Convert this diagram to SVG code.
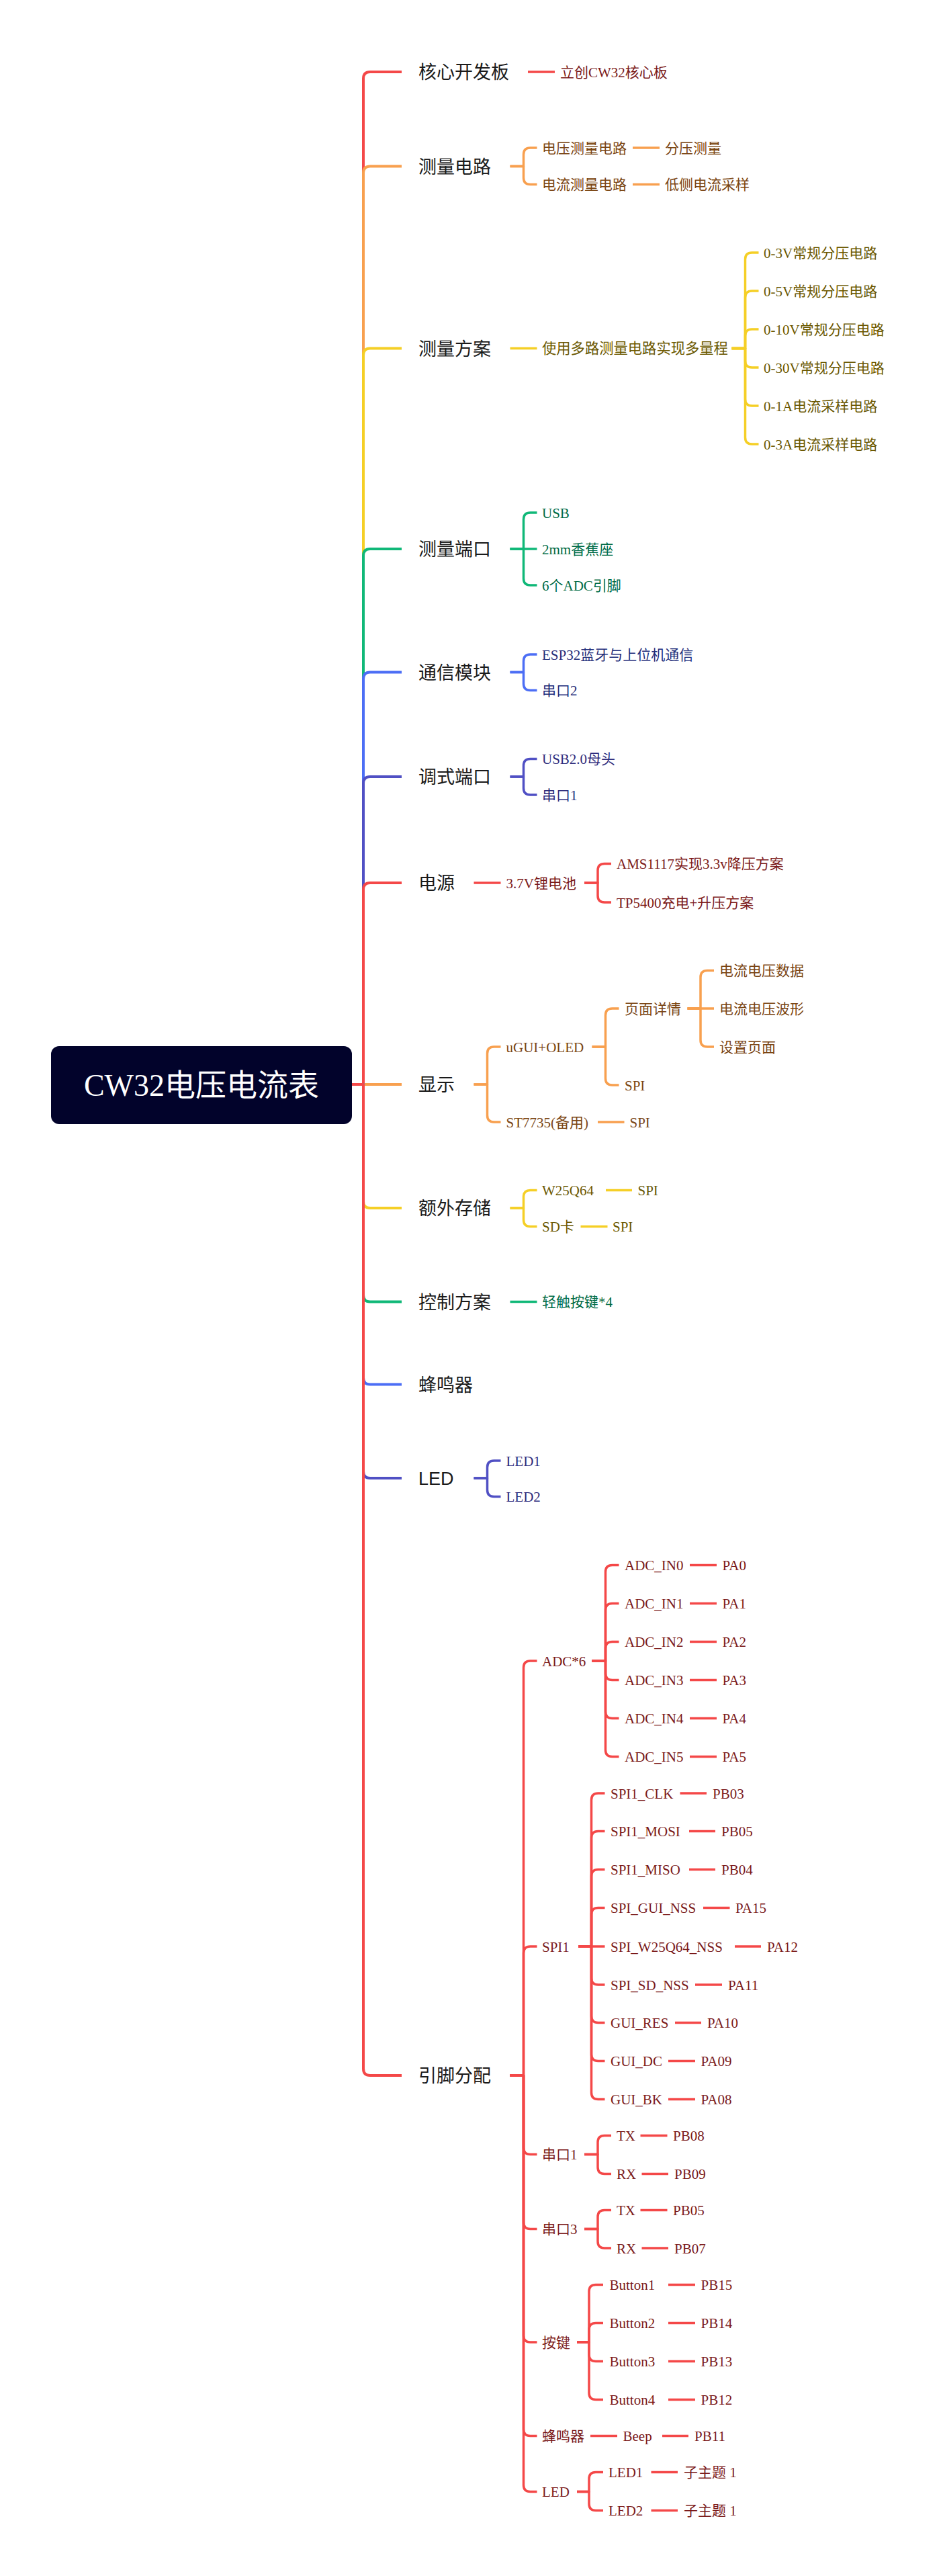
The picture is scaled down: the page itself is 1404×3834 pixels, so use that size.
<svg xmlns="http://www.w3.org/2000/svg" width="1404" height="3834" viewBox="0 0 1404 3834">
<style>
.bg{fill:#ffffff}
.m{font-family:"Liberation Sans","Noto Sans CJK SC",sans-serif;font-size:27px;fill:#1a1a1a}
.c{font-family:"Liberation Serif","Noto Sans CJK SC",serif;font-size:21px}
.root{font-family:"Liberation Serif","Noto Sans CJK SC",serif;font-size:46px;fill:#ffffff}
.l{fill:none;stroke-width:3.5;stroke-linejoin:round}
.lm{fill:none;stroke-width:4;stroke-linejoin:round}
.sr{stroke:#f44848}.so{stroke:#f8a04f}.sy{stroke:#f5cf26}.sg{stroke:#10b878}.sb{stroke:#4c6ef5}.si{stroke:#5050c4}
.tr{fill:#7b1a1a}.to{fill:#7a4512}.ty{fill:#6b5800}.tg{fill:#006b45}.tb{fill:#1f2d7a}.ti{fill:#2e2c7c}
</style>
<rect class="bg" x="0" y="0" width="1404" height="3834"/>
<g id="connectors">
<path class="lm sr" d="M524,1614 H541 V117 Q541,107 551,107 H598"/>
<path class="lm so" d="M524,1614 H541 V257.5 Q541,247.5 551,247.5 H598"/>
<path class="lm sy" d="M524,1614 H541 V528.5 Q541,518.5 551,518.5 H598"/>
<path class="lm sg" d="M524,1614 H541 V827 Q541,817 551,817 H598"/>
<path class="lm sb" d="M524,1614 H541 V1010.5 Q541,1000.5 551,1000.5 H598"/>
<path class="lm si" d="M524,1614 H541 V1166 Q541,1156 551,1156 H598"/>
<path class="lm sr" d="M524,1614 H541 V1324 Q541,1314 551,1314 H598"/>
<path class="lm so" d="M524,1614 H598"/>
<path class="lm sy" d="M524,1614 H541 V1788 Q541,1798 551,1798 H598"/>
<path class="lm sg" d="M524,1614 H541 V1927.5 Q541,1937.5 551,1937.5 H598"/>
<path class="lm sb" d="M524,1614 H541 V2050.5 Q541,2060.5 551,2060.5 H598"/>
<path class="lm si" d="M524,1614 H541 V2190 Q541,2200 551,2200 H598"/>
<path class="lm sr" d="M524,1614 H541 V3079 Q541,3089 551,3089 H598"/>
<path class="l sr" d="M786,107 H826"/>
<path class="l so" d="M759.5,247.5 H779.5 V230 Q779.5,220 789.5,220 H799.5"/>
<path class="l so" d="M759.5,247.5 H779.5 V264.5 Q779.5,274.5 789.5,274.5 H799.5"/>
<path class="l so" d="M942,220 H982"/>
<path class="l so" d="M942,274.5 H982"/>
<path class="l sy" d="M759.5,518.5 H799.5"/>
<path class="l sy" d="M1089.5,518.5 H1109.5 V386 Q1109.5,376 1119.5,376 H1129.5"/>
<path class="l sy" d="M1089.5,518.5 H1109.5 V443 Q1109.5,433 1119.5,433 H1129.5"/>
<path class="l sy" d="M1089.5,518.5 H1109.5 V500 Q1109.5,490 1119.5,490 H1129.5"/>
<path class="l sy" d="M1089.5,518.5 H1109.5 V537 Q1109.5,547 1119.5,547 H1129.5"/>
<path class="l sy" d="M1089.5,518.5 H1109.5 V594 Q1109.5,604 1119.5,604 H1129.5"/>
<path class="l sy" d="M1089.5,518.5 H1109.5 V651 Q1109.5,661 1119.5,661 H1129.5"/>
<path class="l sg" d="M759.5,817 H779.5 V773 Q779.5,763 789.5,763 H799.5"/>
<path class="l sg" d="M759.5,817 H799.5"/>
<path class="l sg" d="M759.5,817 H779.5 V861 Q779.5,871 789.5,871 H799.5"/>
<path class="l sb" d="M759.5,1000.5 H779.5 V984 Q779.5,974 789.5,974 H799.5"/>
<path class="l sb" d="M759.5,1000.5 H779.5 V1017.5 Q779.5,1027.5 789.5,1027.5 H799.5"/>
<path class="l si" d="M759.5,1156 H779.5 V1139.5 Q779.5,1129.5 789.5,1129.5 H799.5"/>
<path class="l si" d="M759.5,1156 H779.5 V1173 Q779.5,1183 789.5,1183 H799.5"/>
<path class="l sr" d="M705.5,1314 H745.5"/>
<path class="l sr" d="M870,1314 H890 V1295.5 Q890,1285.5 900,1285.5 H910"/>
<path class="l sr" d="M870,1314 H890 V1333 Q890,1343 900,1343 H910"/>
<path class="l so" d="M705.5,1614 H725.5 V1568 Q725.5,1558 735.5,1558 H745.5"/>
<path class="l so" d="M705.5,1614 H725.5 V1660 Q725.5,1670 735.5,1670 H745.5"/>
<path class="l so" d="M881.5,1558 H901.5 V1511 Q901.5,1501 911.5,1501 H921.5"/>
<path class="l so" d="M881.5,1558 H901.5 V1605 Q901.5,1615 911.5,1615 H921.5"/>
<path class="l so" d="M1023.5,1501 H1043 V1454.5 Q1043,1444.5 1053,1444.5 H1063"/>
<path class="l so" d="M1023.5,1501 H1063"/>
<path class="l so" d="M1023.5,1501 H1043 V1548 Q1043,1558 1053,1558 H1063"/>
<path class="l so" d="M890,1670 H929.5"/>
<path class="l sy" d="M759.5,1798 H779.5 V1781.5 Q779.5,1771.5 789.5,1771.5 H799.5"/>
<path class="l sy" d="M759.5,1798 H779.5 V1815.5 Q779.5,1825.5 789.5,1825.5 H799.5"/>
<path class="l sy" d="M902,1771.5 H941"/>
<path class="l sy" d="M864.5,1825.5 H904.5"/>
<path class="l sg" d="M759.5,1937.5 H799.5"/>
<path class="l si" d="M705.5,2200 H725.5 V2184 Q725.5,2174 735.5,2174 H745.5"/>
<path class="l si" d="M705.5,2200 H725.5 V2217.5 Q725.5,2227.5 735.5,2227.5 H745.5"/>
<path class="l sr" d="M759.5,3089 H779.5 V2482 Q779.5,2472 789.5,2472 H799.5"/>
<path class="l sr" d="M759.5,3089 H779.5 V2907 Q779.5,2897 789.5,2897 H799.5"/>
<path class="l sr" d="M759.5,3089 H779.5 V3196.5 Q779.5,3206.5 789.5,3206.5 H799.5"/>
<path class="l sr" d="M759.5,3089 H779.5 V3307.5 Q779.5,3317.5 789.5,3317.5 H799.5"/>
<path class="l sr" d="M759.5,3089 H779.5 V3476 Q779.5,3486 789.5,3486 H799.5"/>
<path class="l sr" d="M759.5,3089 H779.5 V3615.5 Q779.5,3625.5 789.5,3625.5 H799.5"/>
<path class="l sr" d="M759.5,3089 H779.5 V3698.5 Q779.5,3708.5 789.5,3708.5 H799.5"/>
<path class="l sr" d="M881.5,2472 H901.5 V2339.5 Q901.5,2329.5 911.5,2329.5 H921.5"/>
<path class="l sr" d="M881.5,2472 H901.5 V2396.5 Q901.5,2386.5 911.5,2386.5 H921.5"/>
<path class="l sr" d="M881.5,2472 H901.5 V2453.5 Q901.5,2443.5 911.5,2443.5 H921.5"/>
<path class="l sr" d="M881.5,2472 H901.5 V2490.5 Q901.5,2500.5 911.5,2500.5 H921.5"/>
<path class="l sr" d="M881.5,2472 H901.5 V2547.5 Q901.5,2557.5 911.5,2557.5 H921.5"/>
<path class="l sr" d="M881.5,2472 H901.5 V2604.5 Q901.5,2614.5 911.5,2614.5 H921.5"/>
<path class="l sr" d="M1027,2329.5 H1067"/>
<path class="l sr" d="M1027,2386.5 H1067"/>
<path class="l sr" d="M1027,2443.5 H1067"/>
<path class="l sr" d="M1027,2500.5 H1067"/>
<path class="l sr" d="M1027,2557.5 H1067"/>
<path class="l sr" d="M1027,2614.5 H1067"/>
<path class="l sr" d="M861.5,2897 H880.5 V2679 Q880.5,2669 890.5,2669 H900.5"/>
<path class="l sr" d="M861.5,2897 H880.5 V2735.5 Q880.5,2725.5 890.5,2725.5 H900.5"/>
<path class="l sr" d="M861.5,2897 H880.5 V2792.5 Q880.5,2782.5 890.5,2782.5 H900.5"/>
<path class="l sr" d="M861.5,2897 H880.5 V2849.5 Q880.5,2839.5 890.5,2839.5 H900.5"/>
<path class="l sr" d="M861.5,2897 H900.5"/>
<path class="l sr" d="M861.5,2897 H880.5 V2944 Q880.5,2954 890.5,2954 H900.5"/>
<path class="l sr" d="M861.5,2897 H880.5 V3000.5 Q880.5,3010.5 890.5,3010.5 H900.5"/>
<path class="l sr" d="M861.5,2897 H880.5 V3057.5 Q880.5,3067.5 890.5,3067.5 H900.5"/>
<path class="l sr" d="M861.5,2897 H880.5 V3114.5 Q880.5,3124.5 890.5,3124.5 H900.5"/>
<path class="l sr" d="M1012.5,2669 H1052"/>
<path class="l sr" d="M1026,2725.5 H1065"/>
<path class="l sr" d="M1026,2782.5 H1065"/>
<path class="l sr" d="M1047,2839.5 H1086.5"/>
<path class="l sr" d="M1094,2897 H1133"/>
<path class="l sr" d="M1035,2954 H1075"/>
<path class="l sr" d="M1005,3010.5 H1044"/>
<path class="l sr" d="M995,3067.5 H1035"/>
<path class="l sr" d="M995,3124.5 H1035"/>
<path class="l sr" d="M870,3206.5 H890 V3188.5 Q890,3178.5 900,3178.5 H910"/>
<path class="l sr" d="M870,3206.5 H890 V3225.5 Q890,3235.5 900,3235.5 H910"/>
<path class="l sr" d="M953.5,3178.5 H993.5"/>
<path class="l sr" d="M955.5,3235.5 H995"/>
<path class="l sr" d="M870,3317.5 H890 V3299.5 Q890,3289.5 900,3289.5 H910"/>
<path class="l sr" d="M870,3317.5 H890 V3336 Q890,3346 900,3346 H910"/>
<path class="l sr" d="M953.5,3289.5 H993.5"/>
<path class="l sr" d="M955.5,3346 H995"/>
<path class="l sr" d="M859,3486 H877 V3410.5 Q877,3400.5 887,3400.5 H898"/>
<path class="l sr" d="M859,3486 H877 V3467.5 Q877,3457.5 887,3457.5 H898"/>
<path class="l sr" d="M859,3486 H877 V3504.5 Q877,3514.5 887,3514.5 H898"/>
<path class="l sr" d="M859,3486 H877 V3561.5 Q877,3571.5 887,3571.5 H898"/>
<path class="l sr" d="M995,3400.5 H1035"/>
<path class="l sr" d="M995,3457.5 H1035"/>
<path class="l sr" d="M995,3514.5 H1035"/>
<path class="l sr" d="M995,3571.5 H1035"/>
<path class="l sr" d="M879,3625.5 H919"/>
<path class="l sr" d="M986,3625.5 H1025"/>
<path class="l sr" d="M859,3708.5 H877 V3689.5 Q877,3679.5 887,3679.5 H898"/>
<path class="l sr" d="M859,3708.5 H877 V3726.5 Q877,3736.5 887,3736.5 H898"/>
<path class="l sr" d="M969.5,3679.5 H1009"/>
<path class="l sr" d="M969.5,3736.5 H1009"/>
</g>
<g id="root"><rect x="76" y="1557" width="448" height="116" rx="12" fill="#02032b"/><text class="root" x="300" y="1631" text-anchor="middle">CW32电压电流表</text></g>
<g id="n1"><text class="m" x="623" y="117">核心开发板</text></g>
<g id="n2"><text class="m" x="623" y="257.5">测量电路</text></g>
<g id="n3"><text class="m" x="623" y="528.5">测量方案</text></g>
<g id="n4"><text class="m" x="623" y="827">测量端口</text></g>
<g id="n5"><text class="m" x="623" y="1010.5">通信模块</text></g>
<g id="n6"><text class="m" x="623" y="1166">调式端口</text></g>
<g id="n7"><text class="m" x="623" y="1324">电源</text></g>
<g id="n8"><text class="m" x="623" y="1624">显示</text></g>
<g id="n9"><text class="m" x="623" y="1808">额外存储</text></g>
<g id="n10"><text class="m" x="623" y="1947.5">控制方案</text></g>
<g id="n11"><text class="m" x="623" y="2070.5">蜂鸣器</text></g>
<g id="n12"><text class="m" x="623" y="2210">LED</text></g>
<g id="n13"><text class="m" x="623" y="3099">引脚分配</text></g>
<g id="n1-1"><text class="c tr" x="834" y="114.5">立创CW32核心板</text></g>
<g id="n2-1"><text class="c to" x="807" y="227.5">电压测量电路</text></g>
<g id="n2-1-1"><text class="c to" x="990" y="227.5">分压测量</text></g>
<g id="n2-2"><text class="c to" x="807" y="282">电流测量电路</text></g>
<g id="n2-2-1"><text class="c to" x="990" y="282">低侧电流采样</text></g>
<g id="n3-1"><text class="c ty" x="807" y="526" style="font-size:21.3px">使用多路测量电路实现多量程</text></g>
<g id="n3-1-1"><text class="c ty" x="1137" y="383.5">0-3V常规分压电路</text></g>
<g id="n3-1-2"><text class="c ty" x="1137" y="440.5">0-5V常规分压电路</text></g>
<g id="n3-1-3"><text class="c ty" x="1137" y="497.5">0-10V常规分压电路</text></g>
<g id="n3-1-4"><text class="c ty" x="1137" y="554.5">0-30V常规分压电路</text></g>
<g id="n3-1-5"><text class="c ty" x="1137" y="611.5">0-1A电流采样电路</text></g>
<g id="n3-1-6"><text class="c ty" x="1137" y="668.5">0-3A电流采样电路</text></g>
<g id="n4-1"><text class="c tg" x="807" y="770.5">USB</text></g>
<g id="n4-2"><text class="c tg" x="807" y="824.5">2mm香蕉座</text></g>
<g id="n4-3"><text class="c tg" x="807" y="878.5">6个ADC引脚</text></g>
<g id="n5-1"><text class="c tb" x="807" y="981.5">ESP32蓝牙与上位机通信</text></g>
<g id="n5-2"><text class="c tb" x="807" y="1035">串口2</text></g>
<g id="n6-1"><text class="c ti" x="807" y="1137">USB2.0母头</text></g>
<g id="n6-2"><text class="c ti" x="807" y="1190.5">串口1</text></g>
<g id="n7-1"><text class="c tr" x="753.5" y="1321.5">3.7V锂电池</text></g>
<g id="n7-1-1"><text class="c tr" x="918" y="1293">AMS1117实现3.3v降压方案</text></g>
<g id="n7-1-2"><text class="c tr" x="918" y="1350.5">TP5400充电+升压方案</text></g>
<g id="n8-1"><text class="c to" x="753.5" y="1565.5">uGUI+OLED</text></g>
<g id="n8-1-1"><text class="c to" x="930" y="1508.5">页面详情</text></g>
<g id="n8-1-1-1"><text class="c to" x="1071" y="1452">电流电压数据</text></g>
<g id="n8-1-1-2"><text class="c to" x="1071" y="1508.5">电流电压波形</text></g>
<g id="n8-1-1-3"><text class="c to" x="1071" y="1565.5">设置页面</text></g>
<g id="n8-1-2"><text class="c to" x="930" y="1622.5">SPI</text></g>
<g id="n8-2"><text class="c to" x="753.5" y="1677.5">ST7735(备用)</text></g>
<g id="n8-2-1"><text class="c to" x="937.5" y="1677.5">SPI</text></g>
<g id="n9-1"><text class="c ty" x="807" y="1779">W25Q64</text></g>
<g id="n9-1-1"><text class="c ty" x="949.5" y="1779">SPI</text></g>
<g id="n9-2"><text class="c ty" x="807" y="1833">SD卡</text></g>
<g id="n9-2-1"><text class="c ty" x="912" y="1833">SPI</text></g>
<g id="n10-1"><text class="c tg" x="807" y="1945">轻触按键*4</text></g>
<g id="n12-1"><text class="c ti" x="753.5" y="2181.5">LED1</text></g>
<g id="n12-2"><text class="c ti" x="753.5" y="2235">LED2</text></g>
<g id="n13-1"><text class="c tr" x="807" y="2479.5">ADC*6</text></g>
<g id="n13-1-1"><text class="c tr" x="930" y="2337">ADC_IN0</text><text class="c tr" x="1075.5" y="2337">PA0</text></g>
<g id="n13-1-2"><text class="c tr" x="930" y="2394">ADC_IN1</text><text class="c tr" x="1075.5" y="2394">PA1</text></g>
<g id="n13-1-3"><text class="c tr" x="930" y="2451">ADC_IN2</text><text class="c tr" x="1075.5" y="2451">PA2</text></g>
<g id="n13-1-4"><text class="c tr" x="930" y="2508">ADC_IN3</text><text class="c tr" x="1075.5" y="2508">PA3</text></g>
<g id="n13-1-5"><text class="c tr" x="930" y="2565">ADC_IN4</text><text class="c tr" x="1075.5" y="2565">PA4</text></g>
<g id="n13-1-6"><text class="c tr" x="930" y="2622">ADC_IN5</text><text class="c tr" x="1075.5" y="2622">PA5</text></g>
<g id="n13-2"><text class="c tr" x="807" y="2904.5">SPI1</text></g>
<g id="n13-2-1"><text class="c tr" x="909" y="2676.5">SPI1_CLK</text><text class="c tr" x="1061" y="2676.5">PB03</text></g>
<g id="n13-2-2"><text class="c tr" x="909" y="2733">SPI1_MOSI</text><text class="c tr" x="1074" y="2733">PB05</text></g>
<g id="n13-2-3"><text class="c tr" x="909" y="2790">SPI1_MISO</text><text class="c tr" x="1074" y="2790">PB04</text></g>
<g id="n13-2-4"><text class="c tr" x="909" y="2847">SPI_GUI_NSS</text><text class="c tr" x="1095" y="2847">PA15</text></g>
<g id="n13-2-5"><text class="c tr" x="909" y="2904.5">SPI_W25Q64_NSS</text><text class="c tr" x="1142" y="2904.5">PA12</text></g>
<g id="n13-2-6"><text class="c tr" x="909" y="2961.5">SPI_SD_NSS</text><text class="c tr" x="1084" y="2961.5">PA11</text></g>
<g id="n13-2-7"><text class="c tr" x="909" y="3018">GUI_RES</text><text class="c tr" x="1053" y="3018">PA10</text></g>
<g id="n13-2-8"><text class="c tr" x="909" y="3075">GUI_DC</text><text class="c tr" x="1043.5" y="3075">PA09</text></g>
<g id="n13-2-9"><text class="c tr" x="909" y="3132">GUI_BK</text><text class="c tr" x="1043.5" y="3132">PA08</text></g>
<g id="n13-3"><text class="c tr" x="807" y="3214">串口1</text></g>
<g id="n13-3-1"><text class="c tr" x="918" y="3186">TX</text><text class="c tr" x="1002" y="3186">PB08</text></g>
<g id="n13-3-2"><text class="c tr" x="918" y="3243">RX</text><text class="c tr" x="1004" y="3243">PB09</text></g>
<g id="n13-4"><text class="c tr" x="807" y="3325">串口3</text></g>
<g id="n13-4-1"><text class="c tr" x="918" y="3297">TX</text><text class="c tr" x="1002" y="3297">PB05</text></g>
<g id="n13-4-2"><text class="c tr" x="918" y="3353.5">RX</text><text class="c tr" x="1004" y="3353.5">PB07</text></g>
<g id="n13-5"><text class="c tr" x="807" y="3493.5">按键</text></g>
<g id="n13-5-1"><text class="c tr" x="907.5" y="3408">Button1</text><text class="c tr" x="1043.5" y="3408">PB15</text></g>
<g id="n13-5-2"><text class="c tr" x="907.5" y="3465">Button2</text><text class="c tr" x="1043.5" y="3465">PB14</text></g>
<g id="n13-5-3"><text class="c tr" x="907.5" y="3522">Button3</text><text class="c tr" x="1043.5" y="3522">PB13</text></g>
<g id="n13-5-4"><text class="c tr" x="907.5" y="3579">Button4</text><text class="c tr" x="1043.5" y="3579">PB12</text></g>
<g id="n13-6"><text class="c tr" x="807" y="3633">蜂鸣器</text><text class="c tr" x="927.5" y="3633">Beep</text><text class="c tr" x="1034" y="3633">PB11</text></g>
<g id="n13-7"><text class="c tr" x="807" y="3716">LED</text></g>
<g id="n13-7-1"><text class="c tr" x="906" y="3687">LED1</text><text class="c tr" x="1018" y="3687">子主题 1</text></g>
<g id="n13-7-2"><text class="c tr" x="906" y="3744">LED2</text><text class="c tr" x="1018" y="3744">子主题 1</text></g>
</svg>
